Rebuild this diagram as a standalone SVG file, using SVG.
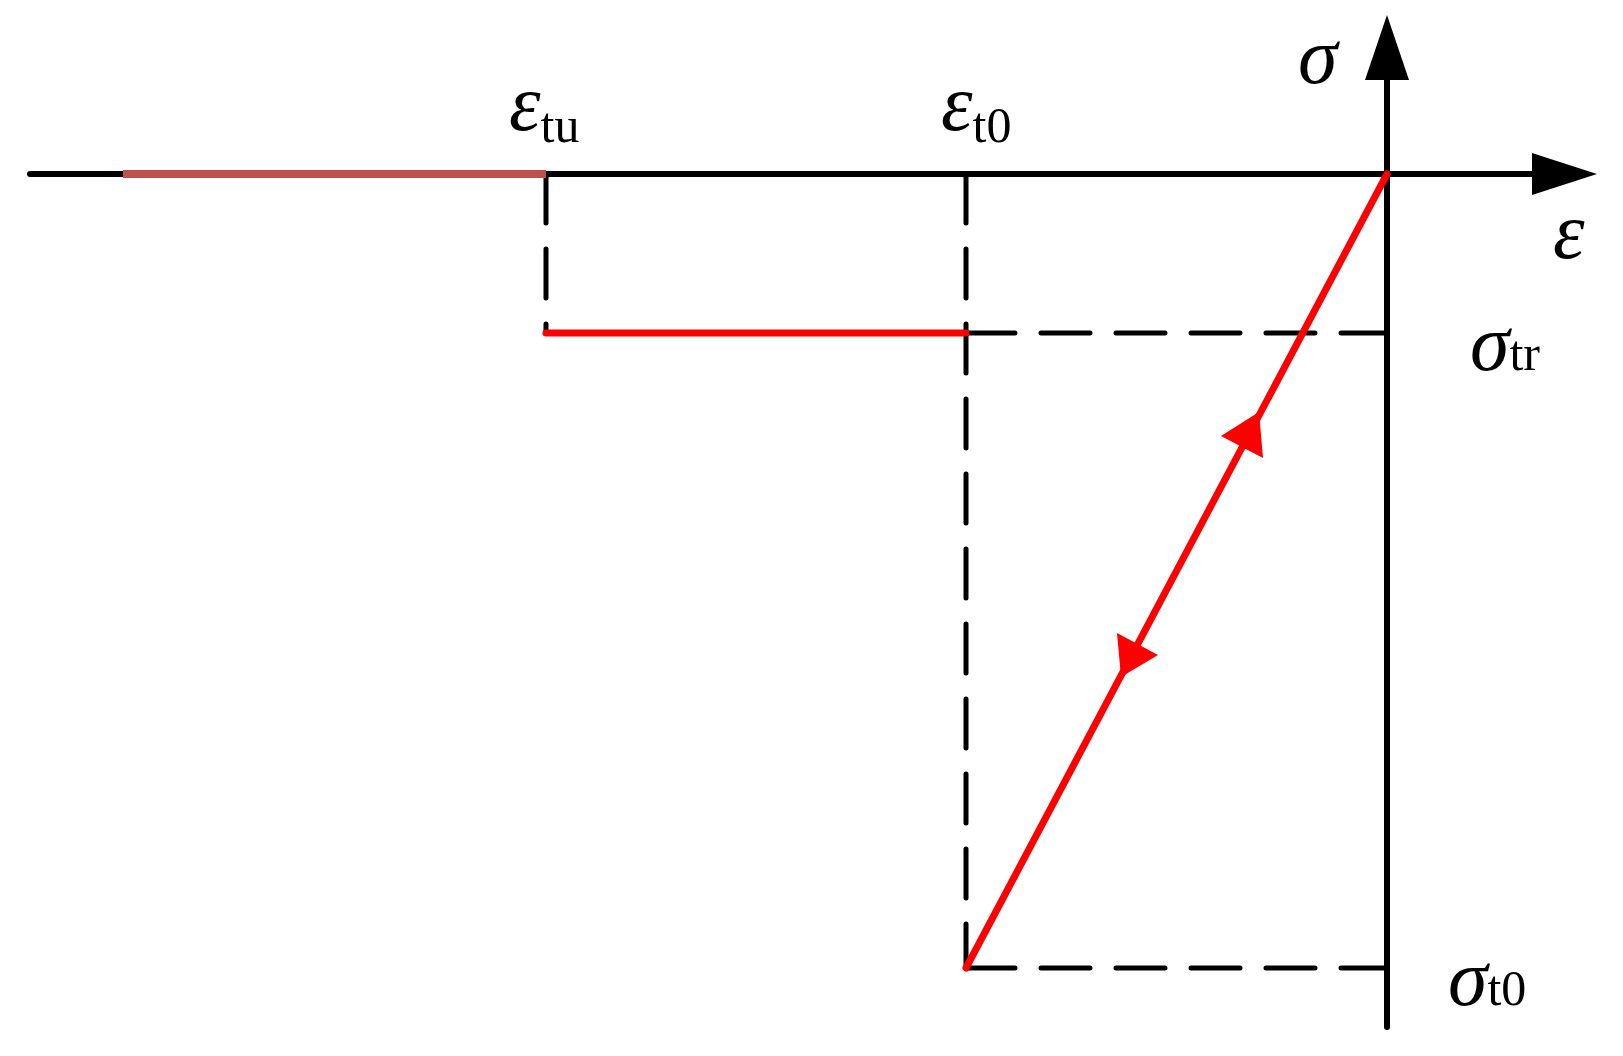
<svg xmlns="http://www.w3.org/2000/svg" width="1623" height="1056" viewBox="0 0 1623 1056">
<style>
.ax{stroke:#000;stroke-width:6;fill:none;stroke-linecap:round}
.ds{stroke:#000;stroke-width:5;fill:none;stroke-dasharray:49 26;stroke-linecap:round}
.rd{stroke:#f00;stroke-width:7;fill:none;stroke-linecap:round}
.t{font-family:"Liberation Serif","Times New Roman",serif;fill:#000}
.g{font-style:italic;font-size:80px}
.s{font-size:50px}
</style>
<rect width="1623" height="1056" fill="#fff"/>
<g id="axes">
<line class="ax" x1="30" y1="174" x2="1540" y2="174"/>
<polygon points="1597,174 1532,153 1532,195" fill="#000"/>
<line class="ax" x1="1387" y1="1027" x2="1387" y2="70"/>
<polygon points="1387,15 1365,80 1409,80" fill="#000"/>
</g>
<g id="connectors">
<line class="ds" x1="546" y1="174" x2="546" y2="333"/>
<line class="ds" x1="966" y1="174" x2="966" y2="968"/>
<line class="ds" x1="966" y1="333" x2="1387" y2="333" style="stroke-dashoffset:0"/>
<line class="ds" x1="966" y1="968" x2="1387" y2="968"/>
<line x1="123" y1="174" x2="546" y2="174" stroke="#c0504d" stroke-width="8"/>
<line class="rd" x1="546" y1="333" x2="966" y2="333"/>
<line class="rd" x1="966" y1="968" x2="1387" y2="174"/>
<polygon points="1259,412 1221,436 1263,458" fill="#f00"/>
<polygon points="1121,677 1117,633 1158,655" fill="#f00"/>
</g>
<g id="labels">
<text class="t g" x="1298" y="83">σ</text>
<text class="t g" x="1553" y="258">ε</text>
<text class="t" x="1470" y="370"><tspan class="g">σ</tspan><tspan class="s">tr</tspan></text>
<text class="t" x="1448" y="1005"><tspan class="g">σ</tspan><tspan class="s">t0</tspan></text>
<text class="t" x="509" y="130"><tspan class="g">ε</tspan><tspan class="s" dy="12">tu</tspan></text>
<text class="t" x="941" y="130"><tspan class="g">ε</tspan><tspan class="s" dy="12">t0</tspan></text>
</g>
</svg>
